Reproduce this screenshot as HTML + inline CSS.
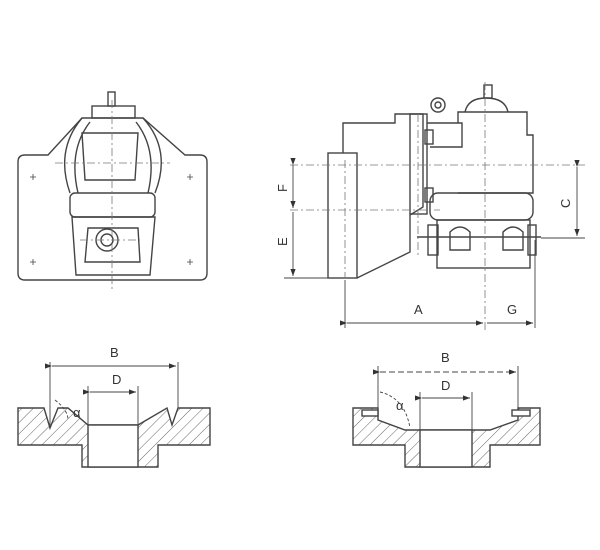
<!DOCTYPE html>
<html><head><meta charset="utf-8"><style>
html,body{margin:0;padding:0;background:#fff}
svg{display:block}
text{font-family:"Liberation Sans",sans-serif;font-size:13px;fill:#333}
</style></head><body>
<svg width="600" height="550" viewBox="0 0 600 550" xmlns="http://www.w3.org/2000/svg">
<defs>
<pattern id="h" width="8" height="8" patternUnits="userSpaceOnUse" patternTransform="rotate(45)">
<line x1="0" y1="0" x2="0" y2="8" stroke="#666" stroke-width="1"/></pattern>
<marker id="a" markerWidth="8" markerHeight="6" refX="8" refY="3" orient="auto"><path d="M0,0L8,3L0,6z" fill="#333"/></marker>
</defs>
<g fill="none" stroke="#444" stroke-width="1.4">
<!-- LEFT FRONT VIEW -->
<path d="M48,155 L82,118 L143,118 L185,155 L200,155 Q207,155 207,162 L207,273 Q207,280 200,280 L25,280 Q18,280 18,273 L18,162 Q18,155 25,155 Z"/>
<rect x="92" y="106" width="43" height="12"/>
<rect x="108" y="92" width="7" height="14"/>
<path d="M82,118 Q55,150 70,193 M143,118 Q172,150 155,193"/>
<path d="M90,122 Q68,150 78,193 M136,122 Q158,150 148,193"/>
<rect x="70" y="193" width="85" height="24" rx="5"/>
<path d="M82,133 L138,133 L135,180 L85,180 Z"/>
<path d="M72,217 L155,217 L150,275 L76,275 Z"/>
<path d="M88,228 L138,228 L140,262 L85,262 Z"/>
<circle cx="107" cy="240" r="11"/><circle cx="107" cy="240" r="6"/>
<g stroke="#777" stroke-width="0.8" stroke-dasharray="8,3,2,3"><line x1="112" y1="100" x2="112" y2="290"/><line x1="55" y1="163" x2="170" y2="163"/><line x1="80" y1="240" x2="140" y2="240"/></g>
<g stroke-width="0.8"><path d="M30,177h6M33,174v6M187,177h6M190,174v6M30,262h6M33,259v6M187,262h6M190,259v6"/></g>
<!-- RIGHT SIDE VIEW -->
<rect x="328" y="153" width="29" height="125"/>
<path d="M343,153 L343,123 L395,123 L395,114 L423,114 L423,207 L410,215 L410,252 L357,278"/>
<rect x="410" y="114" width="17" height="100"/>
<path d="M427,123 L462,123 L462,147 L430,147"/>
<path d="M458,123 L458,112 L527,112 L527,135 L533,135 L533,193 L458,193"/>
<path d="M465,112 Q468,98 486,98 Q505,98 508,112"/>
<rect x="484" y="85" width="8" height="13"/>
<circle cx="438" cy="105" r="7"/><circle cx="438" cy="105" r="3"/>
<rect x="430" y="193" width="103" height="27" rx="8"/>
<rect x="437" y="220" width="93" height="48"/>
<rect x="428" y="225" width="10" height="30"/><rect x="528" y="225" width="8" height="30"/>
<path d="M450,250 L450,232 Q460,222 470,232 L470,250 Z M503,250 L503,232 Q513,222 523,232 L523,250 Z"/>
<line x1="417" y1="237" x2="541" y2="237"/>
<rect x="425" y="130" width="8" height="14"/><rect x="425" y="188" width="8" height="14"/>
<g stroke="#777" stroke-width="0.8" stroke-dasharray="8,3,2,3"><line x1="290" y1="165" x2="585" y2="165"/><line x1="290" y1="210" x2="440" y2="210"/><line x1="485" y1="82" x2="485" y2="330"/><line x1="418" y1="114" x2="418" y2="255"/><line x1="345" y1="160" x2="345" y2="278"/></g>
<!-- dims -->
<g stroke="#444" stroke-width="0.9">
<line x1="284" y1="278" x2="330" y2="278"/>
<line x1="293" y1="165" x2="293" y2="208" marker-end="url(#a)" marker-start="url(#a)"/>
<line x1="293" y1="212" x2="293" y2="276" marker-end="url(#a)"/>
<line x1="577" y1="167" x2="577" y2="236" marker-end="url(#a)" marker-start="url(#a)"/>
<line x1="541" y1="238" x2="585" y2="238"/>
<line x1="345" y1="280" x2="345" y2="328"/><line x1="535" y1="240" x2="535" y2="328"/>
<line x1="347" y1="323" x2="483" y2="323" marker-end="url(#a)" marker-start="url(#a)"/>
<line x1="487" y1="323" x2="533" y2="323" marker-end="url(#a)"/>
</g>
<!-- BOTTOM LEFT -->
<path d="M18,408 L44,408 L50,428 L58,408 L68,408 L68,408 L88,425 L138,425 L167,408 L172,425 L178,408 L210,408 L210,445 L158,445 L158,467 L82,467 L82,445 L18,445 Z" fill="url(#h)"/>
<rect x="88" y="425" width="50" height="42" fill="#fff"/>
<g stroke-width="0.9">
<line x1="50" y1="362" x2="50" y2="428"/><line x1="178" y1="362" x2="178" y2="408"/>
<line x1="52" y1="366" x2="176" y2="366" marker-end="url(#a)" marker-start="url(#a)"/>
<line x1="88" y1="386" x2="88" y2="425"/><line x1="138" y1="386" x2="138" y2="425"/>
<line x1="90" y1="392" x2="136" y2="392" marker-end="url(#a)" marker-start="url(#a)"/>
<path d="M55,400 Q68,410 68,420" stroke-dasharray="3,2"/>
</g>
<!-- BOTTOM RIGHT -->
<path d="M353,408 L378,408 L378,420 L405,430 L490,430 L518,420 L518,408 L540,408 L540,445 L490,445 L490,467 L405,467 L405,445 L353,445 Z" fill="url(#h)"/>
<rect x="420" y="430" width="52" height="37" fill="#fff"/>
<rect x="362" y="410" width="16" height="6" fill="#fff"/><rect x="512" y="410" width="18" height="6" fill="#fff"/>
<g stroke-width="0.9">
<line x1="378" y1="366" x2="378" y2="408"/><line x1="518" y1="366" x2="518" y2="408"/>
<line x1="380" y1="372" x2="516" y2="372" marker-end="url(#a)" marker-start="url(#a)" stroke-dasharray="6,3"/>
<line x1="420" y1="392" x2="420" y2="430"/><line x1="472" y1="392" x2="472" y2="430"/>
<line x1="422" y1="398" x2="470" y2="398" marker-end="url(#a)" marker-start="url(#a)"/>
<path d="M380,392 Q405,398 410,428" stroke-dasharray="3,2"/>
</g>
</g>
<text x="110" y="357">B</text><text x="112" y="384">D</text><text x="73" y="417" font-size="11">α</text>
<text x="441" y="362">B</text><text x="441" y="390">D</text><text x="396" y="410" font-size="11">α</text>
<text x="414" y="314">A</text><text x="507" y="314">G</text>
<text x="0" y="0" transform="translate(287,192) rotate(-90)">F</text>
<text x="0" y="0" transform="translate(287,246) rotate(-90)">E</text>
<text x="0" y="0" transform="translate(570,208) rotate(-90)">C</text>
</svg>
</body></html>
